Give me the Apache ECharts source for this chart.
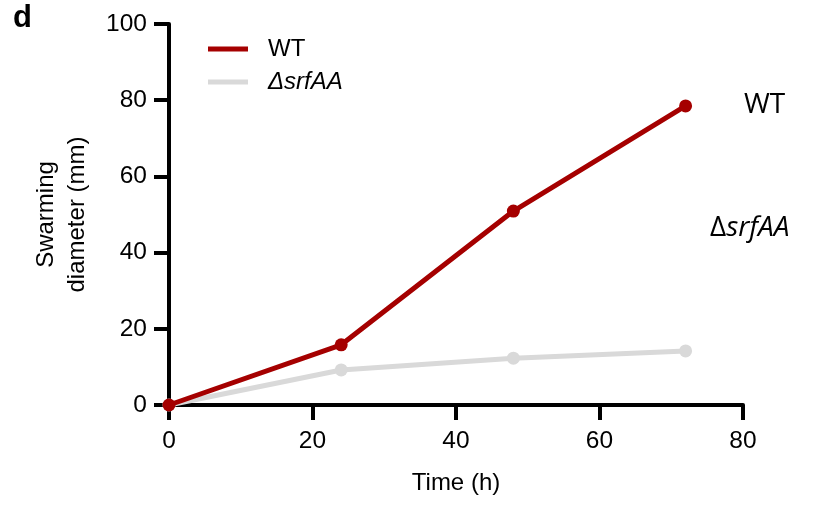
<!DOCTYPE html>
<html>
<head>
<meta charset="utf-8">
<script src="https://cdn.jsdelivr.net/npm/echarts@6/dist/echarts.min.js"></script>
<style>
  html, body { margin: 0; padding: 0; background: #fff; }
  #chart { width: 814px; height: 506px; }
</style>
</head>
<body>
<div id="chart"></div>
<script>
// Swarming diameter over time for WT and the ΔsrfAA mutant
const timeHours = [0, 24, 48, 72];
const wtDiameter = [0, 15.8, 50.9, 78.5];
const srfAADiameter = [0, 9.2, 12.3, 14.2];
const xTicks = [0, 20, 40, 60, 80];
const yTicks = [0, 20, 40, 60, 80, 100];

const WT_COLOR = '#a50000';
const MUT_COLOR = '#d9d9d9';
const FONT = 'Liberation Sans, Arial, sans-serif';
const SIDE_FONT = '"Open Sans", sans-serif';

const chart = echarts.init(document.getElementById('chart'), null, { renderer: 'canvas' });

function pairs(xs, ys) { return xs.map((x, i) => [x, ys[i]]); }

const axisCommon = {
  type: 'value',
  nameLocation: 'middle',
  axisLine: { show: true, onZero: false, lineStyle: { color: '#000', width: 4 } },
  axisTick: { show: true, length: 15, lineStyle: { color: '#000', width: 4 } },
  splitLine: { show: false }
};

chart.setOption({
  animation: false,
  backgroundColor: '#fff',
  grid: { left: 169, right: 71, top: 24, bottom: 101 },
  xAxis: Object.assign({}, axisCommon, {
    min: xTicks[0], max: xTicks[xTicks.length - 1], interval: 20,
    name: 'Time (h)', nameGap: 66,
    nameTextStyle: { fontFamily: FONT, fontSize: 24, color: '#000' },
    axisLabel: { fontFamily: FONT, fontSize: 24.5, color: '#000', margin: 24 }
  }),
  yAxis: Object.assign({}, axisCommon, {
    min: yTicks[0], max: yTicks[yTicks.length - 1], interval: 20,
    name: 'Swarming\ndiameter (mm)', nameGap: 76,
    nameTextStyle: { fontFamily: FONT, fontSize: 24, color: '#000', lineHeight: 31 },
    axisLabel: { fontFamily: FONT, fontSize: 24.5, color: '#000', margin: 22 }
  }),
  legend: {
    orient: 'vertical', left: 203, top: 32, itemGap: 9,
    itemWidth: 40, itemHeight: 5, icon: 'rect',
    textStyle: {
      fontFamily: FONT, fontSize: 24, color: '#000', padding: [0, 0, 0, 15],
      rich: { it: { fontFamily: FONT, fontSize: 24, fontStyle: 'italic', color: '#000' } }
    },
    formatter: function (name) { return name === 'WT' ? 'WT' : '{it|ΔsrfAA}'; },
    data: ['WT', 'ΔsrfAA']
  },
  series: [
    {
      name: 'ΔsrfAA', type: 'line', data: pairs(timeHours, srfAADiameter),
      symbol: 'circle', symbolSize: 13, z: 2,
      lineStyle: { color: MUT_COLOR, width: 5 },
      itemStyle: { color: MUT_COLOR }
    },
    {
      name: 'WT', type: 'line', data: pairs(timeHours, wtDiameter),
      symbol: 'circle', symbolSize: 13, z: 3,
      lineStyle: { color: WT_COLOR, width: 5 },
      itemStyle: { color: WT_COLOR }
    }
  ],
  graphic: [
    { type: 'text', x: 13, y: 18, style: { text: 'd', font: 'bold 31px ' + FONT, fill: '#000', verticalAlign: 'middle' } },
    { type: 'text', x: 744, y: 105, style: { text: 'WT', font: '28px ' + SIDE_FONT, fill: '#000', verticalAlign: 'middle' } },
    { type: 'text', x: 710, y: 228, style: {
        text: '{n|Δ}{i|srfAA}', verticalAlign: 'middle',
        rich: {
          n: { fontFamily: SIDE_FONT, fontSize: 28, fill: '#000' },
          i: { fontFamily: SIDE_FONT, fontSize: 28, fontStyle: 'italic', fill: '#000' }
        }
      } }
  ]
});
</script>
</body>
</html>
